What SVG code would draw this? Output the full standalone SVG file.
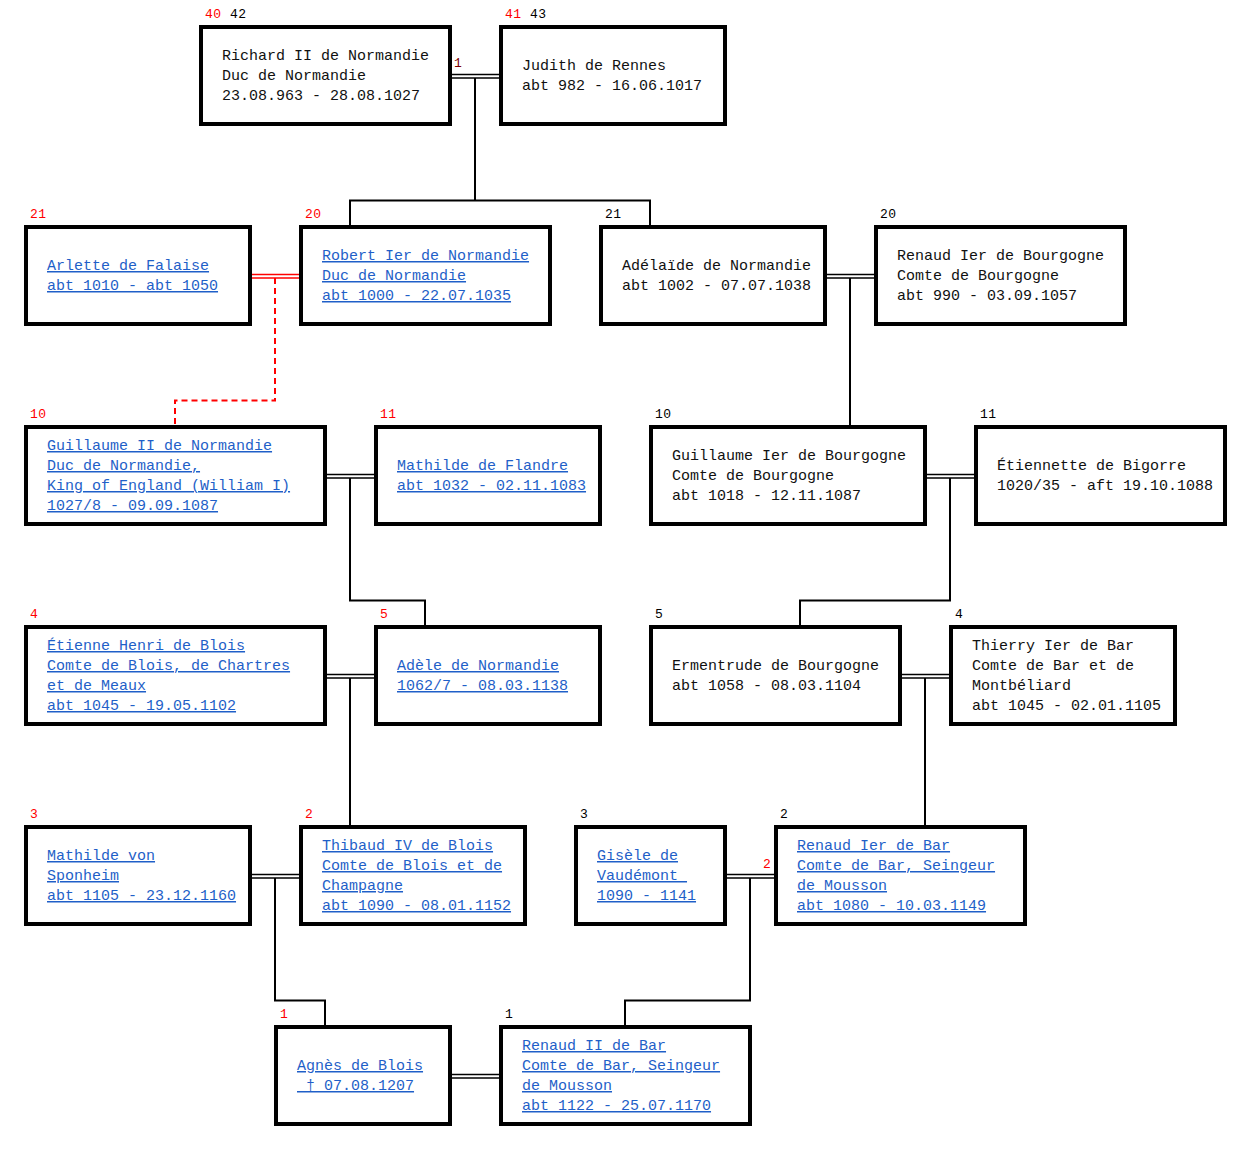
<svg xmlns="http://www.w3.org/2000/svg" width="1251" height="1151" viewBox="0 0 1251 1151">
<style>
.box{fill:#fff;stroke:#000;stroke-width:4}
.t{font-family:"Liberation Mono","Courier New",monospace;font-size:15px;fill:#111;white-space:pre}
.lk{fill:#1f5fc8;text-decoration:underline}
.n{font-family:"Liberation Mono","Courier New",monospace;font-size:13px;letter-spacing:0.5px;fill:#000}
.r{fill:#f00}
.c{stroke:#000;stroke-width:2;fill:none}
.m{stroke:#000;stroke-width:1.4;fill:none}
.rm{stroke:#f00;stroke-width:1.4;fill:none}
.d{stroke:#f00;stroke-width:2;fill:none;stroke-dasharray:6 4}
</style>
<rect width="1251" height="1151" fill="#fff"/>
<g id="connectors">
<path class="m" d="M450 74.5H500M450 78H500"/>
<path class="rm" d="M250 274.5H300M250 278H300"/>
<path class="m" d="M825 274.5H875M825 278H875"/>
<path class="m" d="M325 474.5H375M325 478H375"/>
<path class="m" d="M925 474.5H975M925 478H975"/>
<path class="m" d="M325 674.5H375M325 678H375"/>
<path class="m" d="M900 674.5H950M900 678H950"/>
<path class="m" d="M250 874.5H300M250 878H300"/>
<path class="m" d="M725 874.5H775M725 878H775"/>
<path class="m" d="M450 1074.5H500M450 1078H500"/>
<path class="c" d="M475 78V200.5M350 225V200.5H650V225"/>
<path class="d" d="M275 278V400.5H175V425"/>
<path class="c" d="M850 278V425"/>
<path class="c" d="M350 478V600.5H425V625"/>
<path class="c" d="M950 478V600.5H800V625"/>
<path class="c" d="M350 678V825"/>
<path class="c" d="M925 678V825"/>
<path class="c" d="M275 878V1000.5H325V1025"/>
<path class="c" d="M750 878V1000.5H625V1025"/>
<text class="n" x="454" y="67" style="fill:#800000">1</text>
<text class="n r" x="763" y="868">2</text>
</g>
<g id="n-richard">
<rect class="box" x="201" y="27" width="249" height="97"/>
<text class="n" x="205" y="18"><tspan class="r">40</tspan> 42</text>
<text class="t" x="222" y="60">Richard II de Normandie</text>
<text class="t" x="222" y="80">Duc de Normandie</text>
<text class="t" x="222" y="100">23.08.963 - 28.08.1027</text>
</g>
<g id="n-judith">
<rect class="box" x="501" y="27" width="224" height="97"/>
<text class="n" x="505" y="18"><tspan class="r">41</tspan> 43</text>
<text class="t" x="522" y="70">Judith de Rennes</text>
<text class="t" x="522" y="90">abt 982 - 16.06.1017</text>
</g>
<g id="n-arlette">
<rect class="box" x="26" y="227" width="224" height="97"/>
<text class="n r" x="30" y="218">21</text>
<text class="t lk" x="47" y="270">Arlette de Falaise</text>
<text class="t lk" x="47" y="290">abt 1010 - abt 1050</text>
</g>
<g id="n-robert">
<rect class="box" x="301" y="227" width="249" height="97"/>
<text class="n r" x="305" y="218">20</text>
<text class="t lk" x="322" y="260">Robert Ier de Normandie</text>
<text class="t lk" x="322" y="280">Duc de Normandie</text>
<text class="t lk" x="322" y="300">abt 1000 - 22.07.1035</text>
</g>
<g id="n-adelaide">
<rect class="box" x="601" y="227" width="224" height="97"/>
<text class="n" x="605" y="218">21</text>
<text class="t" x="622" y="270">Adélaïde de Normandie</text>
<text class="t" x="622" y="290">abt 1002 - 07.07.1038</text>
</g>
<g id="n-renaud-bourgogne">
<rect class="box" x="876" y="227" width="249" height="97"/>
<text class="n" x="880" y="218">20</text>
<text class="t" x="897" y="260">Renaud Ier de Bourgogne</text>
<text class="t" x="897" y="280">Comte de Bourgogne</text>
<text class="t" x="897" y="300">abt 990 - 03.09.1057</text>
</g>
<g id="n-guillaume2">
<rect class="box" x="26" y="427" width="299" height="97"/>
<text class="n r" x="30" y="418">10</text>
<text class="t lk" x="47" y="450">Guillaume II de Normandie</text>
<text class="t lk" x="47" y="470">Duc de Normandie,</text>
<text class="t lk" x="47" y="490">King of England (William I)</text>
<text class="t lk" x="47" y="510">1027/8 - 09.09.1087</text>
</g>
<g id="n-mathilde-flandre">
<rect class="box" x="376" y="427" width="224" height="97"/>
<text class="n r" x="380" y="418">11</text>
<text class="t lk" x="397" y="470">Mathilde de Flandre</text>
<text class="t lk" x="397" y="490">abt 1032 - 02.11.1083</text>
</g>
<g id="n-guillaume-bourgogne">
<rect class="box" x="651" y="427" width="274" height="97"/>
<text class="n" x="655" y="418">10</text>
<text class="t" x="672" y="460">Guillaume Ier de Bourgogne</text>
<text class="t" x="672" y="480">Comte de Bourgogne</text>
<text class="t" x="672" y="500">abt 1018 - 12.11.1087</text>
</g>
<g id="n-etiennette">
<rect class="box" x="976" y="427" width="249" height="97"/>
<text class="n" x="980" y="418">11</text>
<text class="t" x="997" y="470">Étiennette de Bigorre</text>
<text class="t" x="997" y="490">1020/35 - aft 19.10.1088</text>
</g>
<g id="n-etienne-henri">
<rect class="box" x="26" y="627" width="299" height="97"/>
<text class="n r" x="30" y="618">4</text>
<text class="t lk" x="47" y="650">Étienne Henri de Blois</text>
<text class="t lk" x="47" y="670">Comte de Blois, de Chartres</text>
<text class="t lk" x="47" y="690">et de Meaux</text>
<text class="t lk" x="47" y="710">abt 1045 - 19.05.1102</text>
</g>
<g id="n-adele">
<rect class="box" x="376" y="627" width="224" height="97"/>
<text class="n r" x="380" y="618">5</text>
<text class="t lk" x="397" y="670">Adèle de Normandie</text>
<text class="t lk" x="397" y="690">1062/7 - 08.03.1138</text>
</g>
<g id="n-ermentrude">
<rect class="box" x="651" y="627" width="249" height="97"/>
<text class="n" x="655" y="618">5</text>
<text class="t" x="672" y="670">Ermentrude de Bourgogne</text>
<text class="t" x="672" y="690">abt 1058 - 08.03.1104</text>
</g>
<g id="n-thierry">
<rect class="box" x="951" y="627" width="224" height="97"/>
<text class="n" x="955" y="618">4</text>
<text class="t" x="972" y="650">Thierry Ier de Bar</text>
<text class="t" x="972" y="670">Comte de Bar et de</text>
<text class="t" x="972" y="690">Montbéliard</text>
<text class="t" x="972" y="710">abt 1045 - 02.01.1105</text>
</g>
<g id="n-mathilde-von">
<rect class="box" x="26" y="827" width="224" height="97"/>
<text class="n r" x="30" y="818">3</text>
<text class="t lk" x="47" y="860">Mathilde von</text>
<text class="t lk" x="47" y="880">Sponheim</text>
<text class="t lk" x="47" y="900">abt 1105 - 23.12.1160</text>
</g>
<g id="n-thibaud">
<rect class="box" x="301" y="827" width="224" height="97"/>
<text class="n r" x="305" y="818">2</text>
<text class="t lk" x="322" y="850">Thibaud IV de Blois</text>
<text class="t lk" x="322" y="870">Comte de Blois et de</text>
<text class="t lk" x="322" y="890">Champagne</text>
<text class="t lk" x="322" y="910">abt 1090 - 08.01.1152</text>
</g>
<g id="n-gisele">
<rect class="box" x="576" y="827" width="149" height="97"/>
<text class="n" x="580" y="818">3</text>
<text class="t lk" x="597" y="860">Gisèle de</text>
<text class="t lk" x="597" y="880">Vaudémont </text>
<text class="t lk" x="597" y="900">1090 - 1141</text>
</g>
<g id="n-renaud1-bar">
<rect class="box" x="776" y="827" width="249" height="97"/>
<text class="n" x="780" y="818">2</text>
<text class="t lk" x="797" y="850">Renaud Ier de Bar</text>
<text class="t lk" x="797" y="870">Comte de Bar, Seingeur</text>
<text class="t lk" x="797" y="890">de Mousson</text>
<text class="t lk" x="797" y="910">abt 1080 - 10.03.1149</text>
</g>
<g id="n-agnes">
<rect class="box" x="276" y="1027" width="174" height="97"/>
<text class="n r" x="280" y="1018">1</text>
<text class="t lk" x="297" y="1070">Agnès de Blois</text>
<text class="t lk" x="297" y="1090"> † 07.08.1207</text>
</g>
<g id="n-renaud2-bar">
<rect class="box" x="501" y="1027" width="249" height="97"/>
<text class="n" x="505" y="1018">1</text>
<text class="t lk" x="522" y="1050">Renaud II de Bar</text>
<text class="t lk" x="522" y="1070">Comte de Bar, Seingeur</text>
<text class="t lk" x="522" y="1090">de Mousson</text>
<text class="t lk" x="522" y="1110">abt 1122 - 25.07.1170</text>
</g>
</svg>
